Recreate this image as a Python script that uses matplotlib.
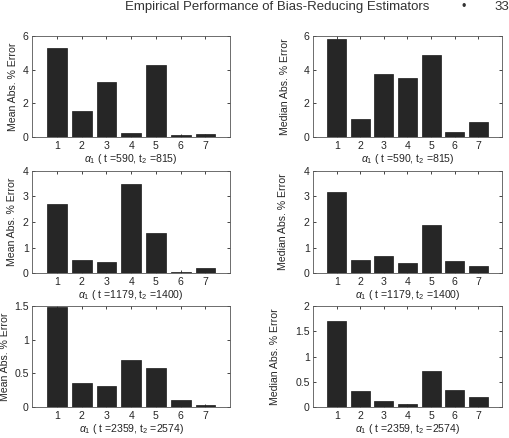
import numpy as np
import matplotlib.pyplot as plt

plt.rcParams['font.family'] = ['Liberation Sans', 'DejaVu Sans']
plt.rcParams['mathtext.fontset'] = 'custom'
plt.rcParams['mathtext.rm'] = 'Liberation Sans'
plt.rcParams['mathtext.it'] = 'Liberation Sans:italic'

estimators = [1, 2, 3, 4, 5, 6, 7]

mean_590 = [5.29, 1.57, 3.28, 0.24, 4.27, 0.12, 0.17]
median_590 = [5.78, 1.08, 3.74, 3.52, 4.88, 0.33, 0.90]
mean_1179 = [2.70, 0.52, 0.44, 3.49, 1.58, 0.05, 0.19]
median_1179 = [3.17, 0.51, 0.69, 0.42, 1.87, 0.47, 0.29]
mean_2359 = [1.476, 0.364, 0.31, 0.70, 0.575, 0.113, 0.03]
median_2359 = [1.70, 0.33, 0.12, 0.07, 0.72, 0.34, 0.21]

xlabels = [r'$\alpha_1$ ( t =590, t$_2$ =815)',
           r'$\alpha_1$ ( t =1179, t$_2$ =1400)',
           r'$\alpha_1$ ( t =2359, t$_2$ =2574)']
ylims = [(6, 6), (4, 4), (1.5, 2)]
yticks = [([0, 2, 4, 6], [0, 2, 4, 6]),
          ([0, 1, 2, 3, 4], [0, 1, 2, 3, 4]),
          ([0, 0.5, 1, 1.5], [0, 0.5, 1, 1.5, 2])]
# ylabel centre offsets (px left of axis)
ylab_off = [(19, 28), (20, 30), (27, 38)]

rows = [(mean_590, median_590), (mean_1179, median_1179), (mean_2359, median_2359)]
bottoms = [0.6865, 0.376, 0.070]
heights = [0.232, 0.234, 0.232]

W, H = 510, 438
fig = plt.figure(figsize=(W / 100, H / 100), dpi=100)
fig.text(0.245, 0.985, 'Empirical Performance of Bias-Reducing Estimators',
         fontsize=9.5, color='#333333', va='center')
fig.text(0.905, 0.985, '\u2022', fontsize=9, color='#333333', va='center')
fig.text(0.998, 0.985, '33', fontsize=9.5, color='#333333', va='center', ha='right')

ax_color = '#262626'
fs = 7.6
for r, (mean_v, med_v) in enumerate(rows):
    for c, vals in enumerate((mean_v, med_v)):
        left = 0.0633 if c == 0 else 0.614
        width = 0.388 if c == 0 else 0.370
        ax = fig.add_axes([left, bottoms[r], width, heights[r]])
        ax.bar(estimators, vals, width=0.8, color='#262626', edgecolor='#1a1a1a', linewidth=0.5)
        ax.set_xlim(0, 8)
        ax.set_ylim(0, ylims[r][c])
        ax.set_xticks(estimators)
        ax.set_yticks(yticks[r][c])
        ax.set_yticklabels([('%g' % v) for v in yticks[r][c]])
        ax.tick_params(direction='in', top=True, right=True, length=2.5, width=0.6,
                       labelsize=fs, colors=ax_color, pad=2.5)
        for s in ax.spines.values():
            s.set_linewidth(0.6)
            s.set_color('#555555')
        ax.set_xlabel(xlabels[r], fontsize=fs, color=ax_color, labelpad=1)
        ax.set_ylabel('Mean Abs. % Error' if c == 0 else 'Median Abs. % Error',
                      fontsize=fs, color=ax_color, va='center')
        ax.yaxis.set_label_coords(-ylab_off[r][c] / (width * W), 0.5)

plt.savefig('out.png', dpi=100)
